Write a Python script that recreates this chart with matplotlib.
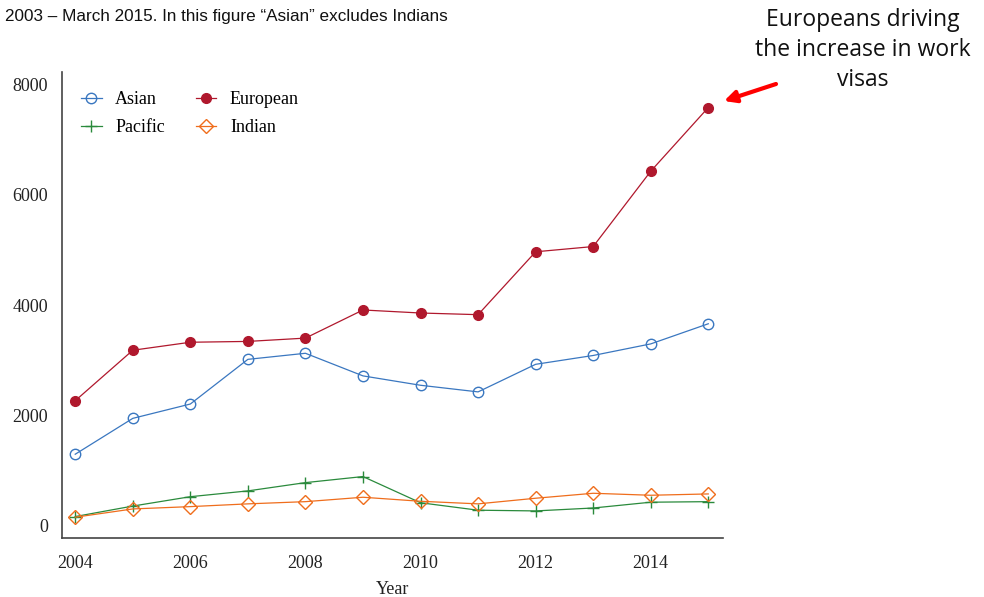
import matplotlib
matplotlib.use("Agg")
import matplotlib.pyplot as plt

years = [2004, 2005, 2006, 2007, 2008, 2009, 2010, 2011, 2012, 2013, 2014, 2015]
asian = [1300, 1950, 2210, 3020, 3130, 2720, 2550, 2430, 2930, 3090, 3300, 3665]
european = [2270, 3185, 3330, 3345, 3405, 3915, 3860, 3830, 4970, 5065, 6430, 7585]
pacific = [170, 360, 530, 635, 785, 895, 420, 285, 272, 325, 430, 440]
indian = [158, 308, 350, 400, 440, 520, 447, 400, 502, 592, 556, 580]

xticks = [2004, 2006, 2008, 2010, 2012, 2014]
yticks = [0, 2000, 4000, 6000, 8000]

c_asian = "#3a77c0"
c_euro = "#b0182d"
c_pac = "#2a8a3c"
c_ind = "#ef6d1c"

serif = "Liberation Serif"

fig = plt.figure(figsize=(9.84, 5.97), dpi=100)
ax = fig.add_axes([0.063, 0.099, 0.672, 0.780])

lw = 0.9
ax.plot(years, asian, color=c_asian, lw=lw, marker="o", ms=7.5,
        mfc="none", mec=c_asian, mew=1.0, label="Asian")
ax.plot(years, european, color=c_euro, lw=lw, marker="o", ms=7,
        mfc=c_euro, mec=c_euro, label="European")
ax.plot(years, pacific, color=c_pac, lw=lw, marker="+", ms=9,
        mew=1.0, label="Pacific")
ax.plot(years, indian, color=c_ind, lw=lw, marker="D", ms=7.5,
        mfc="none", mec=c_ind, mew=1.0, label="Indian")

ax.set_xlim(2003.77, 2015.26)
ax.set_ylim(-217, 8225)
ax.set_xticks(xticks)
ax.set_yticks(yticks)
ax.tick_params(axis="y", length=0, labelsize=13, pad=10)
ax.tick_params(axis="x", length=0, labelsize=13, pad=12)
for lab in ax.get_xticklabels() + ax.get_yticklabels():
    lab.set_fontfamily(serif)
    lab.set_color("#222222")

for side in ("top", "right"):
    ax.spines[side].set_visible(False)
for side in ("left", "bottom"):
    ax.spines[side].set_color("#444444")
    ax.spines[side].set_linewidth(1.2)

ax.set_xlabel("Year", fontfamily=serif, fontsize=13, color="#222222", labelpad=7)

handles, labels = ax.get_legend_handles_labels()
order = [0, 2, 1, 3]
leg = ax.legend([handles[i] for i in order], [labels[i] for i in order],
                ncol=2, loc="upper left", bbox_to_anchor=(0.0, 1.0),
                frameon=False, prop={"family": serif, "size": 13},
                handlelength=1.15, columnspacing=1.7, handletextpad=0.75,
                labelspacing=0.62, borderaxespad=0.65)

fig.text(0.005, 0.972, "2003 \u2013 March 2015. In this figure \u201cAsian\u201d excludes Indians",
         fontfamily="Liberation Sans", fontsize=12.3, ha="left", va="center", color="#111111")

fig.text(0.877, 0.916, "Europeans driving\nthe increase in work\nvisas",
         fontfamily="Open Sans", fontsize=16.5, ha="center", va="center",
         linespacing=1.32, color="#111111")

ax.annotate("", xy=(724 / 984, 1 - 101 / 597), xycoords="figure fraction",
            xytext=(776 / 984, 1 - 84 / 597), textcoords="figure fraction",
            arrowprops=dict(arrowstyle="-|>,head_length=0.7,head_width=0.35",
                            color="#ff0000", lw=3, shrinkA=0, shrinkB=0))

fig.savefig("out.png", dpi=100)
